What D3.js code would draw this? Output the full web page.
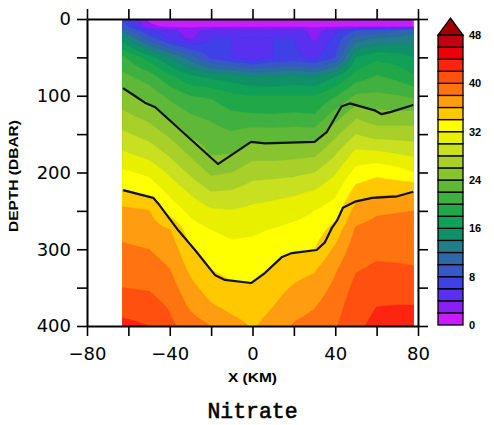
<!DOCTYPE html>
<html>
<head>
<meta charset="utf-8">
<script src="https://cdn.jsdelivr.net/npm/d3@7"></script>
<style>
  html, body { margin: 0; padding: 0; background: #fff; }
  svg { display: block; }
</style>
</head>
<body>
<svg id="chart" width="494" height="425"></svg>
<script>
// Section stations (km along track) and pressure levels (dbar)
const stationX = [-63, -50, -40, -30, -20, -10, 0, 10, 20, 30, 40, 50, 60, 70, 78];
const depthLevels = [0, 10, 15, 25, 50, 75, 100, 125, 150, 175, 200, 225, 250, 275, 300, 325, 350, 375, 400];

// Nitrate, one row per pressure level, one column per station
const nitrate = [
  [7.0, 1.5, 0.5, 0.5, 0.5, 0.5, 0.5, 0.5, 0.5, 0.5, 0.5, 0.5, 0.5, 0.5, 0.5],
  [9.5, 2.5, 1.6, 1.6, 1.6, 1.7, 1.8, 1.8, 1.8, 1.6, 1.8, 1.8, 1.8, 1.8, 1.8],
  [11.5, 6.0, 4.5, 3.0, 5.0, 5.5, 5.5, 5.5, 5.5, 3.0, 5.5, 8.0, 9.0, 10.0, 11.0],
  [15.0, 9.0, 5.5, 3.5, 6.0, 6.0, 6.0, 6.0, 6.0, 3.5, 6.5, 11.0, 12.0, 12.5, 13.0],
  [20.5, 17.0, 14.0, 11.0, 7.5, 6.0, 4.5, 6.0, 6.5, 5.5, 8.0, 16.0, 17.5, 17.0, 16.0],
  [22.6, 21.0, 18.5, 16.5, 15.5, 15.0, 14.0, 14.0, 14.5, 14.0, 16.0, 19.0, 20.2, 19.4, 18.3],
  [24.7, 23.3, 21.5, 20.0, 19.7, 18.5, 18.0, 18.0, 18.0, 18.0, 19.8, 22.3, 22.4, 22.1, 21.6],
  [26.5, 25.2, 23.5, 22.1, 21.5, 20.4, 20.2, 20.1, 20.3, 20.1, 22.9, 25.5, 24.6, 24.6, 24.6],
  [28.4, 27.2, 25.6, 23.6, 22.9, 22.3, 23.0, 22.9, 23.0, 23.0, 25.5, 28.0, 27.1, 27.1, 27.0],
  [30.3, 29.2, 27.6, 25.6, 23.8, 23.9, 25.2, 25.1, 25.3, 25.5, 27.8, 30.5, 30.4, 29.9, 29.5],
  [32.4, 31.5, 29.6, 27.6, 25.6, 26.0, 27.2, 27.3, 27.5, 28.0, 29.8, 32.7, 33.5, 32.9, 32.0],
  [34.3, 33.5, 31.5, 29.7, 28.0, 28.2, 29.0, 29.3, 29.6, 30.2, 31.5, 34.8, 35.5, 35.6, 36.0],
  [36.5, 36.1, 33.2, 31.5, 30.3, 30.1, 30.5, 30.8, 31.2, 32.0, 33.0, 36.8, 37.7, 37.9, 38.0],
  [37.5, 37.1, 36.1, 32.9, 32.0, 31.5, 31.7, 32.1, 32.6, 33.0, 34.8, 38.3, 38.8, 38.8, 38.8],
  [38.3, 38.0, 37.2, 34.3, 33.0, 32.5, 32.6, 33.1, 33.8, 34.0, 36.4, 39.1, 39.5, 39.5, 39.4],
  [39.0, 38.8, 38.0, 35.5, 33.9, 33.4, 33.4, 34.2, 35.2, 35.7, 37.7, 39.8, 40.3, 40.2, 40.1],
  [40.0, 39.8, 38.9, 36.6, 35.0, 34.3, 34.2, 35.2, 36.2, 36.9, 38.5, 40.6, 41.1, 41.1, 41.0],
  [41.2, 40.9, 39.8, 37.7, 36.3, 35.4, 35.0, 36.0, 37.2, 37.9, 39.2, 41.2, 42.0, 42.1, 42.1],
  [42.6, 42.0, 40.5, 39.0, 38.0, 36.8, 35.8, 36.8, 38.2, 38.8, 39.8, 41.6, 42.5, 42.8, 43.0]
];

// Overlaid isolines: [x km, depth dbar]
const isolineUpper = [
  [-62.6, 90], [-57, 100], [-52, 109], [-47, 115], [-16.7, 189], [-0.7, 160],
  [6, 162], [30, 160], [36, 147], [43, 114], [47, 110], [59, 119], [62.4, 124],
  [67, 121], [77.7, 112]
];
const isolineLower = [
  [-62.6, 223], [-48, 233], [-45.7, 240], [-36, 275], [-27.8, 301], [-18, 334],
  [-13.3, 340], [-0.7, 344], [6, 331], [14.3, 310], [19, 305], [31, 301],
  [35, 291], [38.4, 272], [41, 262], [43.7, 246], [49.5, 238], [57.8, 233],
  [70, 231], [77.7, 225]
];

// Fill levels and colours (last colour is the >48 overflow)
const levels = d3.range(0, 50, 2);
const bandColors = [
  "#c81eff", "#8a1ef5", "#5a30f0", "#4040e8", "#3858c8", "#2f68a8",
  "#207e88", "#109068", "#10a058", "#20a848", "#40b040", "#60b838",
  "#88c430", "#a8d028", "#c8e020", "#e8f000", "#ffff00", "#ffc800",
  "#ff9c10", "#ff7410", "#ff5010", "#ff2410", "#ee0008", "#c00010",
  "#a00000"
];

const xTickValues = d3.range(-80, 81, 20);
const xTickLabels = [-80, -40, 0, 40, 80];
const yTickValues = d3.range(0, 401, 50);
const yTickLabels = [0, 100, 200, 300, 400];
const barLabels = [0, 8, 16, 24, 32, 40, 48];

const svg = d3.select("#chart");
const x = d3.scaleLinear().domain([-80, 80]).range([87, 418]);
const y = d3.scaleLinear().domain([0, 400]).range([19, 326]);

// Bilinear sampling of the station grid
function sample(xk, d) {
  const i = Math.min(Math.max(d3.bisectRight(stationX, xk) - 1, 0), stationX.length - 2);
  const j = Math.min(Math.max(d3.bisectRight(depthLevels, d) - 1, 0), depthLevels.length - 2);
  const tx = (xk - stationX[i]) / (stationX[i + 1] - stationX[i]);
  const ty = (d - depthLevels[j]) / (depthLevels[j + 1] - depthLevels[j]);
  const a = nitrate[j][i], b = nitrate[j][i + 1];
  const c = nitrate[j + 1][i], e = nitrate[j + 1][i + 1];
  return (a * (1 - tx) + b * tx) * (1 - ty) + (c * (1 - tx) + e * tx) * ty;
}

const x0 = stationX[0], x1 = stationX[stationX.length - 1];
const dxStep = 0.5, ddStep = 1;
const nx = Math.round((x1 - x0) / dxStep) + 1;
const ny = Math.round(400 / ddStep) + 1;
const field = new Float64Array(nx * ny);
for (let j = 0; j < ny; j++) {
  for (let i = 0; i < nx; i++) {
    field[j * nx + i] = sample(x0 + i * dxStep, j * ddStep);
  }
}

const toScreen = d3.geoTransform({
  point(px, py) {
    const gi = Math.max(0, Math.min(nx - 1, px - 0.5));
    const gj = Math.max(0, Math.min(ny - 1, py - 0.5));
    this.stream.point(x(x0 + gi * dxStep), y(gj * ddStep));
  }
});
const path = d3.geoPath(toScreen);

svg.append("clipPath").attr("id", "dataClip")
  .append("rect")
  .attr("x", x(x0)).attr("y", y(0))
  .attr("width", x(x1) - x(x0)).attr("height", y(400) - y(0));

const bands = d3.contours().size([nx, ny]).thresholds(levels)(field);
svg.append("g").attr("clip-path", "url(#dataClip)")
  .selectAll("path").data(bands).join("path")
  .attr("d", path)
  .attr("fill", (d, k) => bandColors[k])
  .attr("stroke", (d, k) => bandColors[k])
  .attr("stroke-width", 0.4);

// Isolines
const line = d3.line().x(p => x(p[0])).y(p => y(p[1]));
svg.append("g").selectAll("path").data([isolineUpper, isolineLower]).join("path")
  .attr("d", line)
  .attr("fill", "none")
  .attr("stroke", "#111")
  .attr("stroke-width", 2.2)
  .attr("stroke-linejoin", "round");

// Axes
const fmt = d => (d < 0 ? "\u2212" + Math.abs(d) : String(d));
function styleAxis(g) {
  g.attr("font-family", "DejaVu Sans, sans-serif").attr("font-size", 18);
  g.select(".domain").attr("stroke", "#000").attr("stroke-width", 2);
  g.selectAll(".tick line").attr("stroke", "#000").attr("stroke-width", 1.6);
  g.selectAll(".tick text").attr("fill", "#000");
}
svg.append("g").attr("transform", `translate(0,${y(400)})`)
  .call(d3.axisBottom(x).tickValues(xTickValues).tickSize(10).tickSizeOuter(0).tickPadding(11)
    .tickFormat(d => xTickLabels.includes(d) ? fmt(d) : ""))
  .call(styleAxis);
svg.append("g").attr("transform", `translate(0,${y(0)})`)
  .call(d3.axisTop(x).tickValues(xTickValues).tickSize(10).tickSizeOuter(0).tickFormat(() => ""))
  .call(styleAxis);
svg.append("g").attr("transform", `translate(${x(-80)},0)`)
  .call(d3.axisLeft(y).tickValues(yTickValues).tickSize(10).tickSizeOuter(0).tickPadding(6)
    .tickFormat(d => yTickLabels.includes(d) ? String(d) : ""))
  .call(styleAxis);
svg.append("g").attr("transform", `translate(${x(80)},0)`)
  .call(d3.axisRight(y).tickValues(yTickValues).tickSize(10).tickSizeOuter(0).tickFormat(() => ""))
  .call(styleAxis);

// Axis titles
svg.append("text")
  .attr("transform", "translate(18,176) rotate(-90)")
  .attr("text-anchor", "middle")
  .attr("font-family", "Liberation Sans, Arial, sans-serif")
  .attr("font-weight", "bold")
  .attr("font-size", 12)
  .attr("textLength", 112).attr("lengthAdjust", "spacingAndGlyphs")
  .text("DEPTH (DBAR)");
svg.append("text")
  .attr("x", x(0)).attr("y", 382)
  .attr("text-anchor", "middle")
  .attr("font-family", "Liberation Sans, Arial, sans-serif")
  .attr("font-weight", "bold")
  .attr("font-size", 13)
  .attr("textLength", 49).attr("lengthAdjust", "spacingAndGlyphs")
  .text("X (KM)");

// Title
svg.append("text")
  .attr("x", x(0)).attr("y", 418)
  .attr("text-anchor", "middle")
  .attr("font-family", "Liberation Mono, Courier New, monospace")
  .attr("font-size", 22)
  .attr("fill", "#000")
  .attr("stroke", "#000").attr("stroke-width", 0.6)
  .attr("textLength", 90).attr("lengthAdjust", "spacingAndGlyphs")
  .text("Nitrate");

// Colour bar
const cb = d3.scaleLinear().domain([0, 48]).range([325, 35]);
const cbX = 438, cbW = 25;
const bar = svg.append("g");
bar.selectAll("rect").data(levels.slice(0, 24)).join("rect")
  .attr("x", cbX).attr("width", cbW)
  .attr("y", d => cb(d + 2)).attr("height", d => cb(d) - cb(d + 2))
  .attr("fill", (d, k) => bandColors[k])
  .attr("stroke", "#000").attr("stroke-width", 1.3);
bar.append("path")
  .attr("d", `M${cbX},${cb(48)}L${cbX + cbW},${cb(48)}L${cbX + cbW / 2},${cb(48) - 17}Z`)
  .attr("fill", bandColors[24])
  .attr("stroke", "#000").attr("stroke-width", 1.3);
bar.selectAll("text").data(barLabels).join("text")
  .attr("x", 469).attr("y", d => cb(d))
  .attr("dy", "0.36em")
  .attr("font-family", "Liberation Sans, Arial, sans-serif")
  .attr("font-weight", "bold")
  .attr("font-size", 11)
  .text(d => d);
</script>
</body>
</html>
